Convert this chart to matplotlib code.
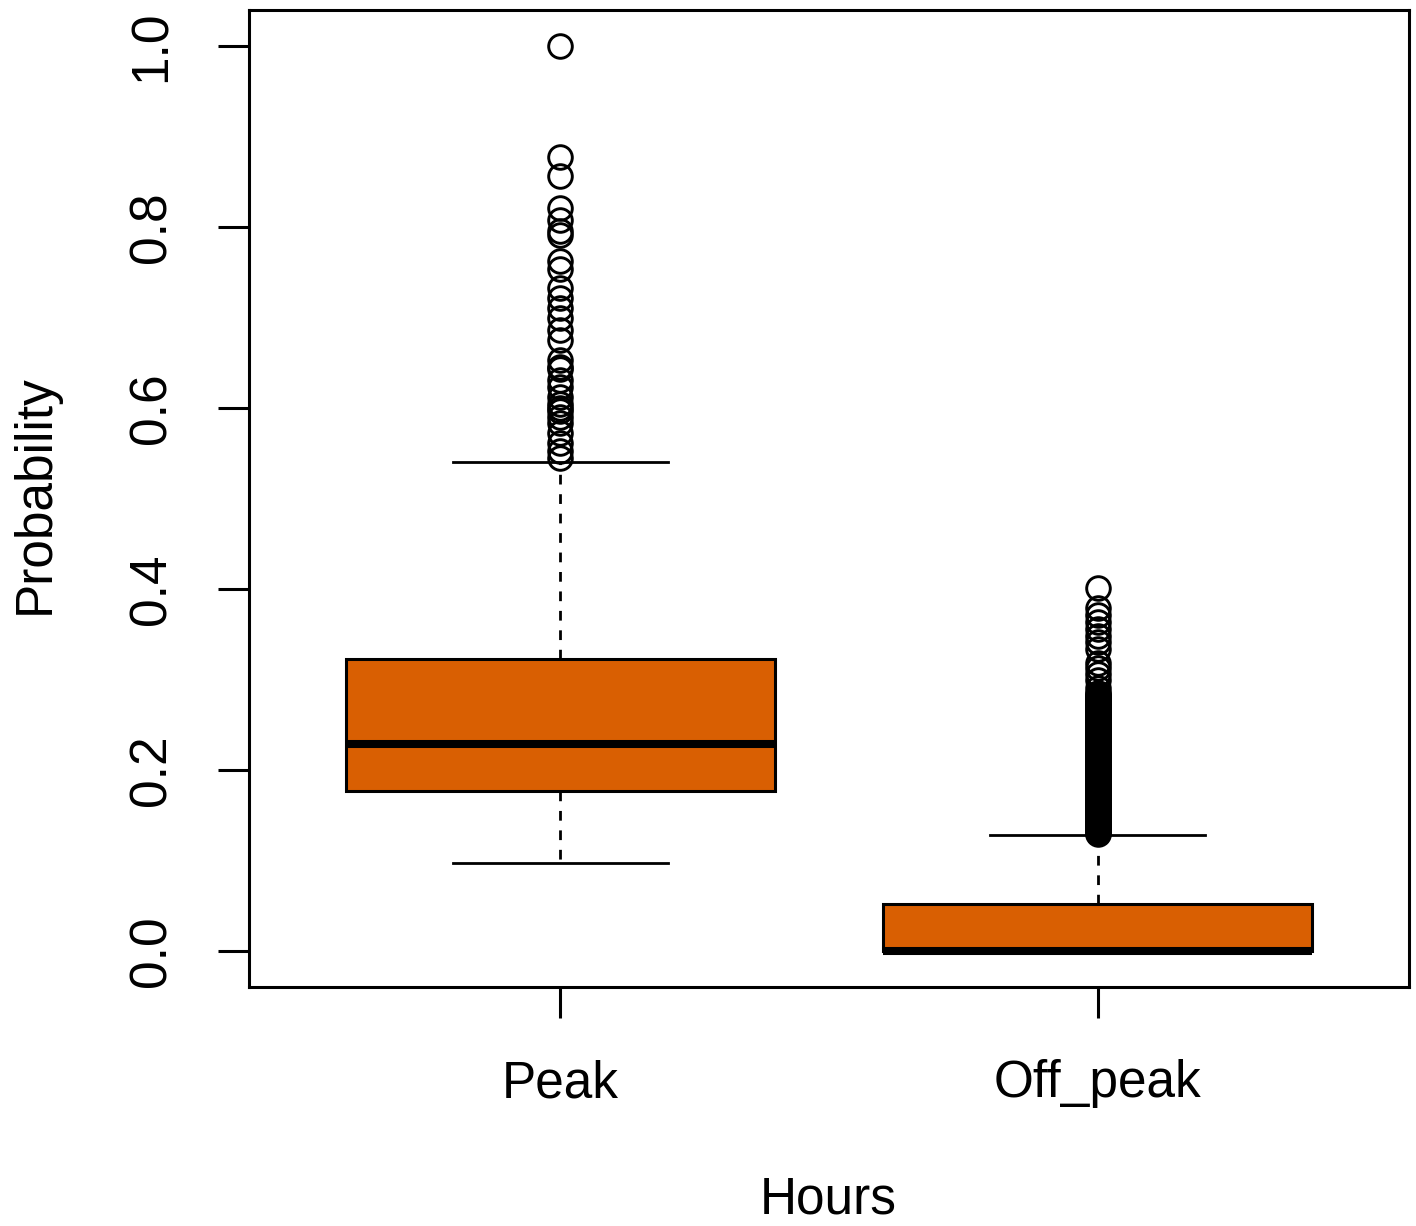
import matplotlib
matplotlib.use("Agg")
import matplotlib.pyplot as plt

plt.rcParams['font.family'] = ['Liberation Sans', 'DejaVu Sans']

# data
groups = ['Peak', 'Off_peak']
q1 = [0.177, 0.0]
med = [0.229, 0.0]
q3 = [0.323, 0.052]
whislo = [0.097, 0.0]
whishi = [0.540, 0.128]

peak_fliers = [1.0, 0.877, 0.857, 0.821, 0.808, 0.796, 0.791, 0.763, 0.754,
               0.733, 0.722, 0.711, 0.700, 0.686, 0.675, 0.653, 0.645, 0.643,
               0.631, 0.623, 0.612, 0.605, 0.600, 0.597, 0.590, 0.583, 0.572,
               0.561, 0.553, 0.545]

# off-peak outliers: a few separate ones on top, then a very dense run
offpeak_fliers = [0.401, 0.379, 0.371, 0.363, 0.356, 0.348, 0.341, 0.334,
                  0.318, 0.313, 0.306, 0.299, 0.291,
                  0.285, 0.2835, 0.282, 0.2805, 0.279, 0.2775, 0.276, 0.2745,
                  0.273, 0.2715, 0.270, 0.2685, 0.267, 0.2655, 0.264, 0.2625,
                  0.261, 0.2595, 0.258, 0.2565, 0.255, 0.2535, 0.252, 0.2505,
                  0.249, 0.2475, 0.246, 0.2445, 0.243, 0.2415, 0.240, 0.2385,
                  0.237, 0.2355, 0.234, 0.2325, 0.231, 0.2295, 0.228, 0.2265,
                  0.225, 0.2235, 0.222, 0.2205, 0.219, 0.2175, 0.216, 0.2145,
                  0.213, 0.2115, 0.210, 0.2085, 0.207, 0.2055, 0.204, 0.2025,
                  0.201, 0.1995, 0.198, 0.1965, 0.195, 0.1935, 0.192, 0.1905,
                  0.189, 0.1875, 0.186, 0.1845, 0.183, 0.1815, 0.180, 0.1785,
                  0.177, 0.1755, 0.174, 0.1725, 0.171, 0.1695, 0.168, 0.1665,
                  0.165, 0.1635, 0.162, 0.1605, 0.159, 0.1575, 0.156, 0.1545,
                  0.153, 0.1515, 0.150, 0.1485, 0.147, 0.1455, 0.144, 0.1425,
                  0.141, 0.1395, 0.138, 0.1365, 0.135, 0.1335, 0.132, 0.1305,
                  0.129]

fliers = [peak_fliers, offpeak_fliers]
yticks = [0.0, 0.2, 0.4, 0.6, 0.8, 1.0]

stats = []
for i, name in enumerate(groups):
    stats.append(dict(label=name, q1=q1[i], med=med[i], q3=q3[i],
                      whislo=whislo[i], whishi=whishi[i], fliers=fliers[i]))

fig = plt.figure(figsize=(14.16, 12.26), dpi=100)
ax = fig.add_axes([249 / 1416, 1 - 987 / 1226, 1160 / 1416, 977 / 1226])

ax.bxp(stats, positions=[1, 2], widths=0.8, patch_artist=True,
       boxprops=dict(facecolor='#D95F02', edgecolor='black', linewidth=2.2),
       medianprops=dict(color='black', linewidth=5.8, solid_capstyle='butt'),
       whiskerprops=dict(color='black', linewidth=2.0, linestyle=(0, (3.5, 3.5))),
       capprops=dict(color='black', linewidth=2.0),
       capwidths=0.4,
       flierprops=dict(marker='o', markerfacecolor='none', markeredgecolor='black',
                       markersize=17, markeredgewidth=2.1))

ax.set_xlim(0.42, 2.58)
ax.set_ylim(-0.04, 1.04)
ax.set_yticks(yticks)
ax.set_yticklabels(['%.1f' % v for v in yticks], rotation=90, va='center')
ax.set_xticks([1, 2])
ax.set_xticklabels(groups)
ax.tick_params(axis='both', labelsize=37, length=22, width=2.2, pad=30)
for s in ax.spines.values():
    s.set_linewidth(2.2)

fig.text(828 / 1416, 1 - 1200 / 1226, 'Hours', fontsize=37, ha='center', va='center')
fig.text(35 / 1416, 1 - 494 / 1226, 'Probability', fontsize=37, ha='center', va='center',
         rotation=90)

fig.savefig('out.png', dpi=100)
